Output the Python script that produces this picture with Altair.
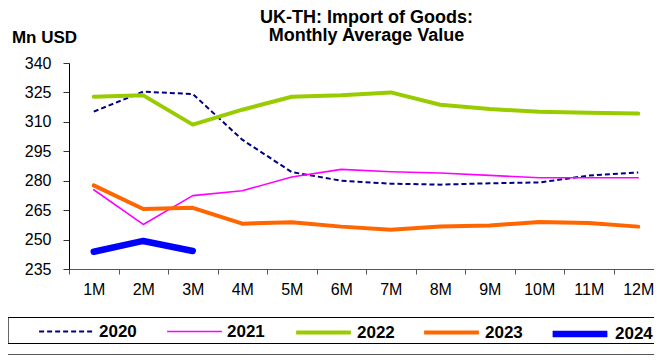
import altair as alt
import pandas as pd

months = ["1M", "2M", "3M", "4M", "5M", "6M", "7M", "8M", "9M", "10M", "11M", "12M"]
years = ["2020", "2021", "2022", "2023", "2024"]
v2020 = [315.2, 325.4, 324.2, 300.9, 284.4, 280.0, 278.5, 278.0, 278.7, 279.1, 282.6, 284.2]
v2021 = [275.4, 257.7, 272.4, 274.9, 281.9, 285.8, 284.6, 283.9, 282.7, 281.5, 281.5, 281.5]
v2022 = [322.8, 323.5, 308.6, 316.2, 322.8, 323.5, 325.0, 318.7, 316.5, 315.2, 314.7, 314.2]
v2023 = [277.6, 265.6, 266.2, 258.1, 258.8, 256.6, 255.0, 256.7, 257.2, 259.0, 258.4, 256.6]
v2024 = [243.8, 249.3, 244.2]
y_ticks = [235, 250, 265, 280, 295, 310, 325, 340]

colors = ["#000080", "#FF00FF", "#99CC00", "#FF6600", "#0000FF"]
dashes = [[5, 3], None, None, None, None]
widths = [2, 1.6, 4, 4, 6.5]
caps = ["butt", "round", "round", "round", "round"]
legend_x = [-31, 97, 225, 353, 480]

FONT = "Liberation Sans"

x = alt.X(
    "month:N",
    sort=months,
    bandPosition=0.5,
    scale=alt.Scale(type="band", domain=months, range=[0, 594], paddingInner=0, paddingOuter=0),
    axis=alt.Axis(
        title=None, tickBand="extent", labelFontSize=16, labelFont=FONT,
        labelColor="black", domainColor="#555555", tickColor="#555555",
        tickSize=5, labelPadding=7, labelAngle=0,
    ),
)
y = alt.Y(
    "value:Q",
    scale=alt.Scale(domain=[235, 340], nice=False, zero=False),
    axis=alt.Axis(
        values=y_ticks, grid=False, title="Mn USD", titleAngle=0,
        titleX=-25, titleY=-21, titleAlign="center", titleBaseline="alphabetic",
        titleFont=FONT, titleFontSize=17, titleFontWeight="bold", titleColor="black",
        labelFontSize=16, labelFont=FONT, labelColor="black",
        domainColor="black", tickColor="#333333", tickSize=6, labelPadding=12,
    ),
)

layers = []
for yr, vals, c, d, w, cap, lx in zip(
    years, [v2020, v2021, v2022, v2023, v2024], colors, dashes, widths, caps, legend_x
):
    sub = pd.DataFrame({"month": months[: len(vals)], "year": [yr] * len(vals), "value": vals})
    mark_kw = dict(strokeWidth=w, strokeCap=cap, strokeJoin="round")
    leg_kw = dict(
        orient="none", legendX=lx, legendY=240, title=None, symbolType="stroke",
        symbolSize=3000, symbolStrokeWidth=w, symbolStrokeColor=c,
        labelFontSize=17, labelFont=FONT, labelFontWeight="bold", labelColor="black",
        labelOffset=4, padding=0,
    )
    if d is not None:
        mark_kw["strokeDash"] = d
        leg_kw["symbolDash"] = d
    layers.append(
        alt.Chart(sub).mark_line(**mark_kw).encode(
            x=x,
            y=y,
            color=alt.Color("year:N", scale=alt.Scale(domain=[yr], range=[c]), legend=alt.Legend(**leg_kw)),
        )
    )

box_df = pd.DataFrame({"k": [0]})
box = alt.Chart(box_df).mark_rect(fill=None, stroke="black", strokeWidth=1.2).encode(
    x=alt.value(-61), x2=alt.value(600), y=alt.value(254.5), y2=alt.value(280.5)
)
bottom_rule = alt.Chart(box_df).mark_rule(color="#555555", strokeWidth=1.2).encode(
    x=alt.value(-61), x2=alt.value(600), y=alt.value(291.5)
)

chart = alt.layer(*layers, box, bottom_rule).resolve_scale(
    color="independent"
).resolve_legend(color="independent").properties(
    width=585,
    height=206,
    title=alt.TitleParams(
        text=["UK-TH: Import of Goods:", "Monthly Average Value"],
        anchor="middle", font=FONT, fontSize=18, fontWeight="bold", color="black",
        lineHeight=18.5, offset=6, dx=5, dy=23,
    ),
    autosize=alt.AutoSizeParams(type="none"),
    padding={"left": 61, "top": 55, "right": 0, "bottom": 90},
).configure_view(stroke=None)

chart.save("out.html", embed_options={"renderer": "svg", "actions": False})
